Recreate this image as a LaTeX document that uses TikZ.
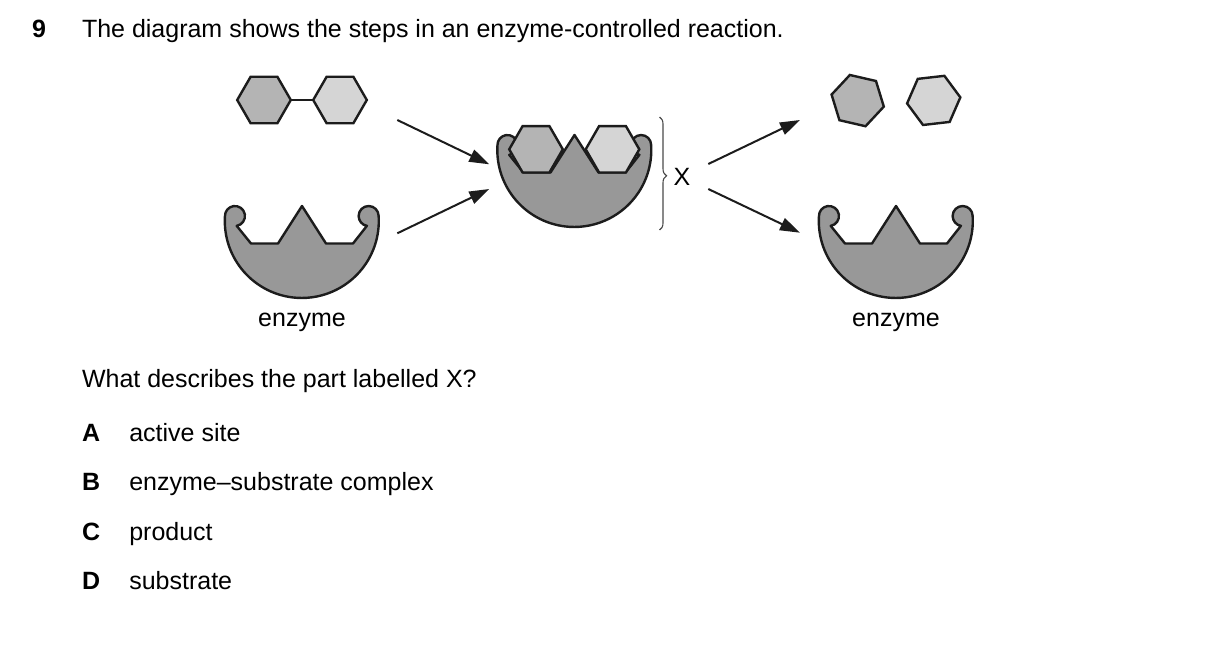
\documentclass[tikz,border=0pt]{standalone}
\usepackage{fontspec}
\setmainfont{Liberation Sans}
\usetikzlibrary{arrows.meta,decorations.pathreplacing}
\definecolor{enzgray}{RGB}{152,152,152}
\definecolor{hexdark}{RGB}{180,180,180}
\definecolor{hexlight}{RGB}{213,213,213}
\definecolor{ink}{RGB}{28,28,28}
\begin{document}
\begin{tikzpicture}[x=1pt,y=-1pt,
  txt/.style={font=\fontsize{25}{30}\selectfont, inner sep=0pt, outer sep=0pt, anchor=base west},
  ctxt/.style={font=\fontsize{25}{30}\selectfont, inner sep=0pt, outer sep=0pt, anchor=base},
  shapeline/.style={draw=ink, line width=2.4pt},
  arr/.style={draw=ink, line width=2pt, -{Triangle[length=20pt,width=13pt]}},
  hexpic/.pic={\path[pic actions] (0:26.8) -- (60:26.8) -- (120:26.8) -- (180:26.8) -- (240:26.8) -- (300:26.8) -- cycle;},
  enzpic/.pic={\path[pic actions] (-65.3,4.85) arc[start angle=80, end angle=-180, radius=10]
      arc[start angle=183.7, end angle=-3.7, radius=77]
      arc[start angle=0, end angle=-260, radius=10]
      -- (51,22.5) -- (24,22.5) -- (0,-15) -- (-24,22.5) -- (-51,22.5) -- cycle;}
]
\useasboundingbox (0,0) rectangle (1209,646);

% question text
\node[txt, font=\fontsize{25}{30}\selectfont\bfseries] (num) at (32,37.5) {9};
\node[txt] (title) at (82,37.5) {The diagram shows the steps in an enzyme-controlled reaction.};

% substrate
\coordinate (sl) at (290.8,100);
\coordinate (sr) at (313.2,100);
\draw[draw=ink, line width=1.6pt] (sl) -- (sr);
\pic[shapeline, fill=hexdark] at (264,100) {hexpic};
\pic[shapeline, fill=hexlight] at (340,100) {hexpic};

% left enzyme
\pic[shapeline, fill=enzgray, line join=round] at (302,221) {enzpic};
\node[ctxt] (enzL) at (302,326.7) {enzyme};

% complex
\pic[shapeline, fill=enzgray, line join=round] at (574.5,150) {enzpic};
\pic[shapeline, fill=hexdark] at (536,149.3) {hexpic};
\pic[shapeline, fill=hexlight] at (612.5,149.3) {hexpic};

% products
\pic[shapeline, fill=hexdark, rotate=-13] at (857.7,100.6) {hexpic};
\pic[shapeline, fill=hexlight, rotate=6.5] at (933.7,100.4) {hexpic};

% right enzyme
\pic[shapeline, fill=enzgray, line join=round] at (896,221) {enzpic};
\node[ctxt] (enzR) at (896,326.7) {enzyme};

% arrows
\coordinate (a1s) at (397.3,120);   \coordinate (a1e) at (489.3,164.3);
\coordinate (a2s) at (397.3,233.3); \coordinate (a2e) at (489.3,189);
\coordinate (a3s) at (708.3,164);   \coordinate (a3e) at (800,120);
\coordinate (a4s) at (708.3,189);   \coordinate (a4e) at (800,232.7);
\draw[arr] (a1s) -- (a1e);
\draw[arr] (a2s) -- (a2e);
\draw[arr] (a3s) -- (a3e);
\draw[arr] (a4s) -- (a4e);

% brace and X
\coordinate (bt) at (659.5,117);
\coordinate (bb) at (659.5,230);
\draw[draw=ink!80, line width=1.1pt, decorate, decoration={brace, amplitude=7pt, aspect=0.52}] (bt) -- (bb);
\node[txt] (xlab) at (673.5,185) {X};

% question and options
\node[txt] (q) at (82,387.7) {What describes the part labelled X?};
\node[txt, font=\fontsize{25}{30}\selectfont\bfseries] (oA) at (82,441) {A};
\node[txt] (tA) at (129.3,441) {active site};
\node[txt, font=\fontsize{25}{30}\selectfont\bfseries] (oB) at (82,490.5) {B};
\node[txt] (tB) at (129.3,490.5) {enzyme–substrate complex};
\node[txt, font=\fontsize{25}{30}\selectfont\bfseries] (oC) at (82,540) {C};
\node[txt] (tC) at (129.3,540) {product};
\node[txt, font=\fontsize{25}{30}\selectfont\bfseries] (oD) at (82,589.5) {D};
\node[txt] (tD) at (129.3,589.5) {substrate};
\end{tikzpicture}
\end{document}
